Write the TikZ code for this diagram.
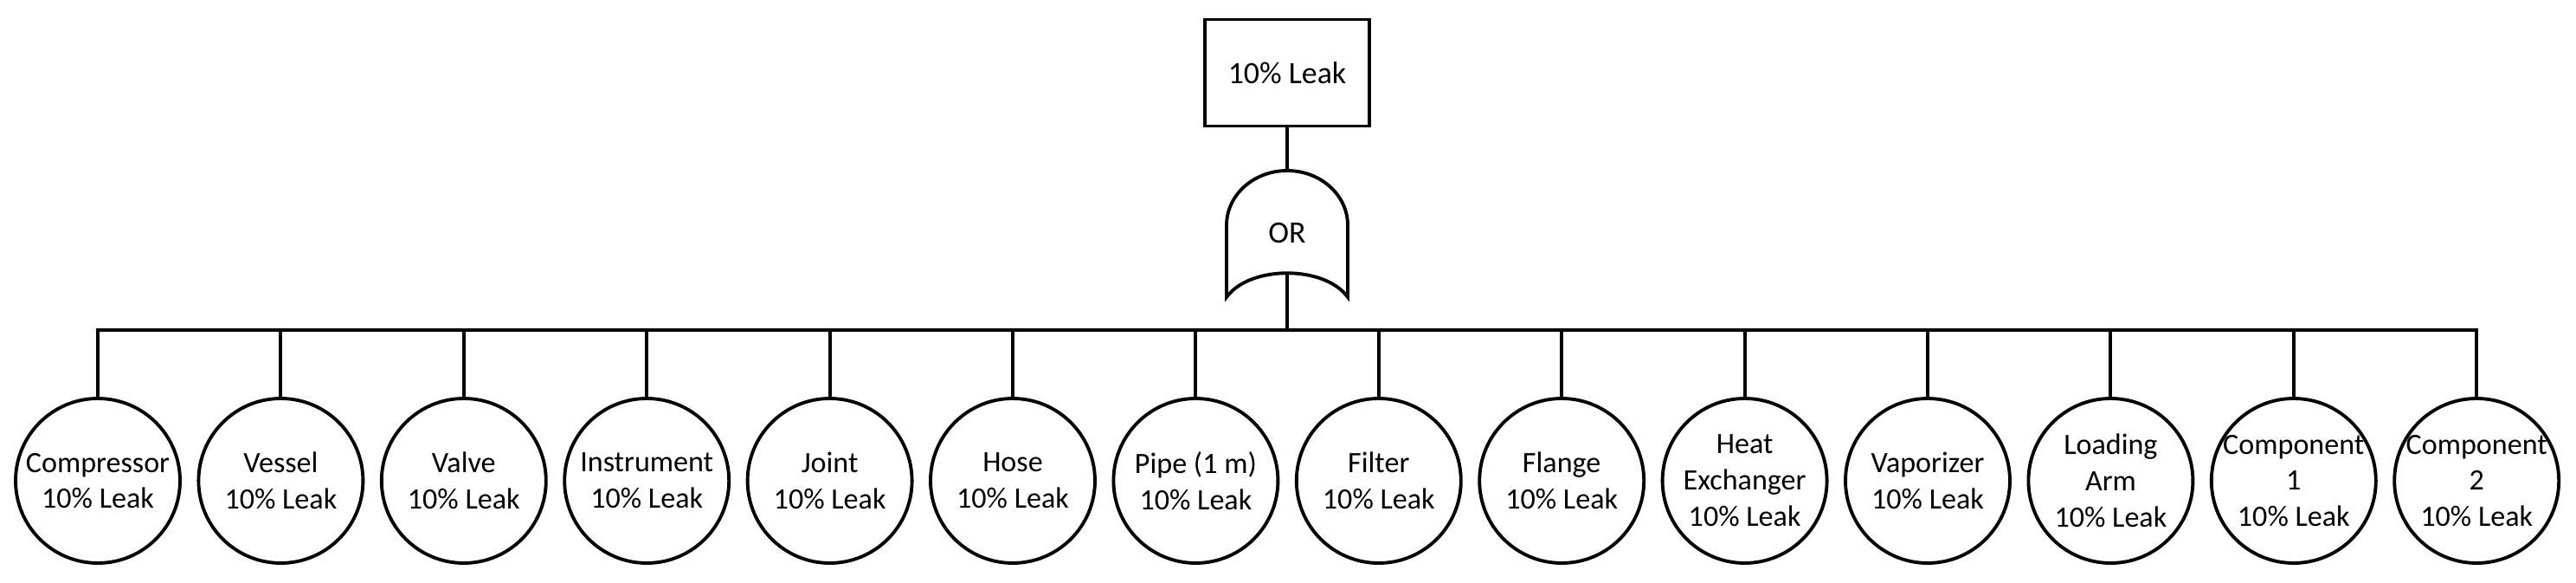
\documentclass[tikz,border=0pt]{standalone}
\usepackage{fontspec}
\setmainfont{Carlito}
\usepackage{tikz}
\usetikzlibrary{shapes}

\begin{document}
\begin{tikzpicture}[line width=1.1pt,
  event/.style={draw, rectangle, minimum width=1.90cm, minimum height=1.23cm, font=\fontsize{10.2}{12.3}\selectfont},
  leaf/.style={draw, circle, minimum size=1.90cm, inner sep=-2pt, align=center, font=\fontsize{9.7}{11.9}\selectfont}]
\useasboundingbox (0,0) rectangle (29.76,6.72);
\draw (14.87,5.88) node[event] (top) {10\% Leak};
\draw (14.17,3.29) -- (14.17,4.12) arc[start angle=180, end angle=0, x radius=0.70, y radius=0.63] -- (15.57,3.29) .. controls (15.30,3.66) and (14.44,3.66) .. (14.17,3.29) -- cycle;
\draw (14.87,4.03) node[font=\fontsize{10.2}{12.3}\selectfont] (gate) {OR};
\coordinate (gtop) at (14.87,4.75);
\coordinate (gbot) at (14.87,3.57);
\coordinate (bus) at (14.87,2.91);
\draw (1.130,1.17) node[leaf] (c1) {Compressor\\10\% Leak};
\draw (3.244,1.17) node[leaf] (c2) {Vessel\\10\% Leak};
\draw (5.358,1.17) node[leaf] (c3) {Valve\\10\% Leak};
\draw (7.472,1.17) node[leaf] (c4) {Instrument\\10\% Leak};
\draw (9.586,1.17) node[leaf] (c5) {Joint\\10\% Leak};
\draw (11.700,1.17) node[leaf] (c6) {Hose\\10\% Leak};
\draw (13.814,1.17) node[leaf] (c7) {Pipe (1 m)\\10\% Leak};
\draw (15.928,1.17) node[leaf] (c8) {Filter\\10\% Leak};
\draw (18.042,1.17) node[leaf] (c9) {Flange\\10\% Leak};
\draw (20.156,1.17) node[leaf] (c10) {Heat\\Exchanger\\10\% Leak};
\draw (22.270,1.17) node[leaf] (c11) {Vaporizer\\10\% Leak};
\draw (24.384,1.17) node[leaf] (c12) {Loading\\Arm\\10\% Leak};
\draw (26.498,1.17) node[leaf] (c13) {Component\\1\\10\% Leak};
\draw (28.612,1.17) node[leaf] (c14) {Component\\2\\10\% Leak};
\draw (top.south) -- (gtop);
\draw (gbot) -- (bus);
\draw (c1.north) |- (bus) -| (c14.north);
\draw (c2.north) -- (c2.north |- bus);
\draw (c3.north) -- (c3.north |- bus);
\draw (c4.north) -- (c4.north |- bus);
\draw (c5.north) -- (c5.north |- bus);
\draw (c6.north) -- (c6.north |- bus);
\draw (c7.north) -- (c7.north |- bus);
\draw (c8.north) -- (c8.north |- bus);
\draw (c9.north) -- (c9.north |- bus);
\draw (c10.north) -- (c10.north |- bus);
\draw (c11.north) -- (c11.north |- bus);
\draw (c12.north) -- (c12.north |- bus);
\draw (c13.north) -- (c13.north |- bus);
\end{tikzpicture}
\end{document}
